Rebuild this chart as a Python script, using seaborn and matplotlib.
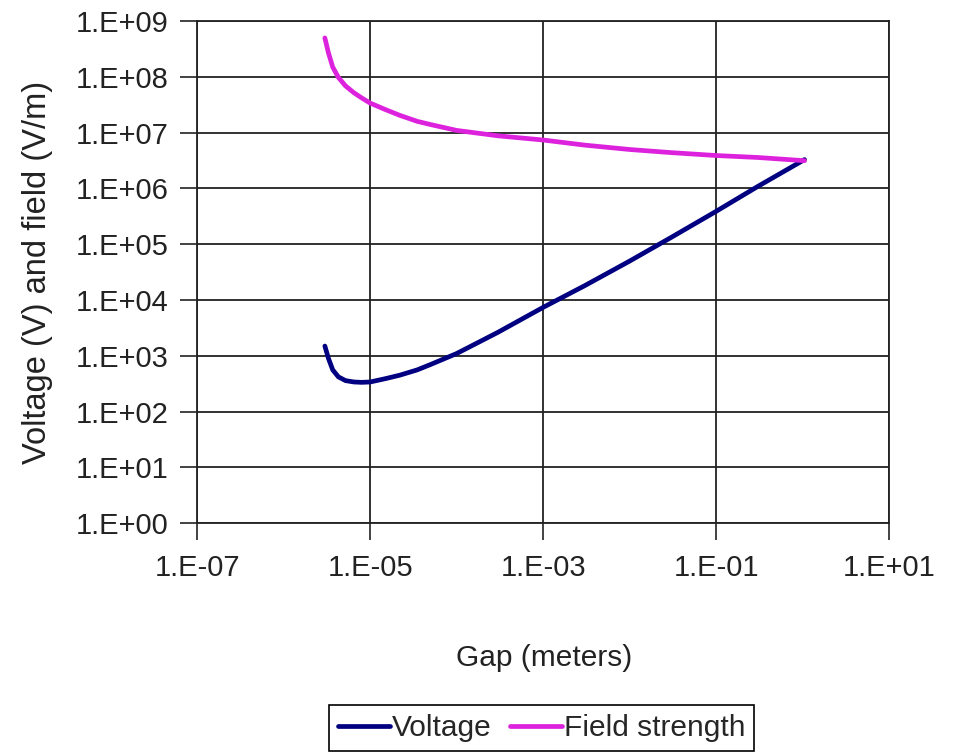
import numpy as np
import pandas as pd
import matplotlib
matplotlib.use("Agg")
import matplotlib.pyplot as plt
import seaborn as sns

# values
gap = [3.0e-6, 3.3e-6, 3.7e-6, 4.3e-6, 5.2e-6, 6.5e-6, 8e-6, 1e-5, 1.5e-5, 2.2e-5,
       3.5e-5, 5e-5, 1e-4, 3e-4, 1e-3, 3e-3, 1e-2, 3e-2, 1e-1, 3e-1, 1.05]
voltage = [1500, 900, 560, 420, 360, 340, 335, 340, 390, 450,
           560, 700, 1100, 2640, 7400, 1.8e4, 5.0e4, 1.32e5, 3.9e5, 1.08e6, 3.3e6]
field = [5.0e8, 2.7e8, 1.5e8, 9.8e7, 6.9e7, 5.2e7, 4.2e7, 3.4e7, 2.6e7, 2.05e7,
         1.6e7, 1.4e7, 1.1e7, 8.8e6, 7.4e6, 6.0e6, 5.0e6, 4.4e6, 3.9e6, 3.6e6, 3.15e6]

x_ticks = [1e-7, 1e-5, 1e-3, 1e-1, 1e1]
x_labels = ["1.E-07", "1.E-05", "1.E-03", "1.E-01", "1.E+01"]
y_ticks = [10.0 ** k for k in range(0, 10)]
y_labels = ["1.E+%02d" % k for k in range(0, 10)]

sns.set_style("white")
plt.rcParams["font.family"] = ["Liberation Sans", "DejaVu Sans"]

df = pd.DataFrame({"gap": gap, "Voltage": voltage, "Field strength": field})

fig = plt.figure(figsize=(9.66, 7.55), dpi=100)
ax = fig.add_axes([0.204, 0.307, 0.7165, 0.665])

sns.lineplot(data=df, x="gap", y="Voltage", ax=ax, color="#000080", lw=3.4,
             label="Voltage", sort=False)
sns.lineplot(data=df, x="gap", y="Field strength", ax=ax, color="#dd22dd", lw=3.4,
             label="Field strength", sort=False)

ax.set_xscale("log")
ax.set_yscale("log")
ax.set_xlim(1e-7, 1e1)
ax.set_ylim(1e0, 1e9)
ax.set_xticks(x_ticks)
ax.set_xticklabels(x_labels)
ax.set_yticks(y_ticks)
ax.set_yticklabels(y_labels)
ax.minorticks_off()
ax.tick_params(axis="both", labelsize=21, colors="#222222", direction="out",
               length=12, width=1.2, left=True, bottom=True)
ax.tick_params(axis="y", pad=8.5)
ax.tick_params(axis="x", pad=10)
ax.grid(True, color="#222222", lw=1.3)
for s in ax.spines.values():
    s.set_color("#222222")
    s.set_linewidth(1.3)

ax.set_xlabel("Gap (meters)", fontsize=21.5, color="#222222")
ax.set_ylabel("Voltage (V) and field (V/m)", fontsize=23.5, color="#222222")
ax.xaxis.set_label_coords(0.502, -0.241)
ax.yaxis.set_label_coords(-0.208, 0.5)

ax.get_legend().remove()
h, l = ax.get_legend_handles_labels()
leg = fig.legend(h, l, loc="upper center", bbox_to_anchor=(0.5606, 0.0662), ncol=2,
                 fontsize=21.5, frameon=True, fancybox=False, edgecolor="black",
                 framealpha=1, handlelength=1.77, handletextpad=0.05,
                 columnspacing=0.6, borderpad=0.3, borderaxespad=0.0)
leg.get_frame().set_linewidth(1.2)

fig.savefig("out.png", dpi=100)
